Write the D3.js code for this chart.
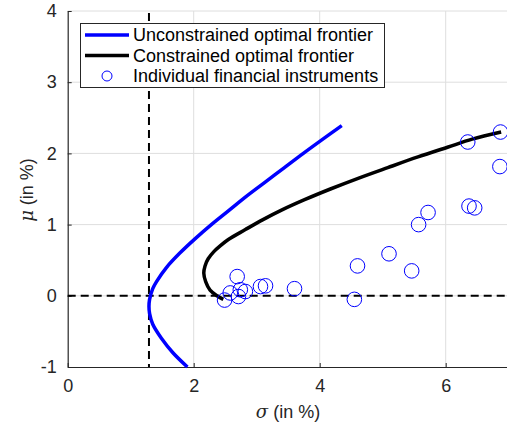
<!DOCTYPE html>
<html>
<head>
<meta charset="utf-8">
<script src="https://cdn.jsdelivr.net/npm/d3@7"></script>
<style>
  body { margin: 0; background: #fff; }
  svg { display: block; font-family: "Liberation Sans", Arial, sans-serif; }
</style>
</head>
<body>
<svg id="chart" width="507" height="433"></svg>
<script>
// data (sigma in %, mu in %)
var unconstrainedSigma = [1.90, 1.67, 1.49, 1.35, 1.30, 1.29, 1.30, 1.35, 1.41, 1.57, 1.78, 2.02, 2.28, 2.56, 2.84, 3.14, 3.44, 3.74, 4.05, 4.35];
var unconstrainedMu = [-1, -0.8, -0.6, -0.4, -0.25, -0.15, -0.05, 0.1, 0.2, 0.4, 0.6, 0.8, 1.0, 1.2, 1.4, 1.6, 1.8, 2.0, 2.2, 2.39];

var constrainedSigma = [2.47, 2.37, 2.26, 2.19, 2.16, 2.18, 2.23, 2.32, 2.42, 2.55, 2.82, 3.10, 3.41, 3.76, 4.17, 4.61, 5.08, 5.56, 6.04, 6.42, 6.88];
var constrainedMu = [-0.05, 0.0, 0.08, 0.2, 0.32, 0.42, 0.52, 0.62, 0.70, 0.79, 0.93, 1.07, 1.21, 1.35, 1.50, 1.65, 1.80, 1.95, 2.09, 2.20, 2.30];

var assetSigma = [2.49, 2.58, 2.69, 2.71, 2.74, 2.82, 3.06, 3.14, 3.60, 4.55, 4.60, 5.10, 5.46, 5.57, 5.72, 6.37, 6.46, 6.35, 6.87, 6.86];
var assetMu = [-0.06, 0.04, 0.27, -0.01, 0.085, 0.06, 0.13, 0.14, 0.10, -0.05, 0.42, 0.59, 0.35, 1.00, 1.17, 1.26, 1.235, 2.16, 2.30, 1.815];

var minSigma = 1.29;

var xTicks = [0, 2, 4, 6];
var yTicks = [-1, 0, 1, 2, 3, 4];
var legendLabels = ["Unconstrained optimal frontier", "Constrained optimal frontier", "Individual financial instruments"];

var svg = d3.select("#chart");
var x = d3.scaleLinear().domain([0, 7]).range([67.7, 508.7]);
var y = d3.scaleLinear().domain([-1, 4]).range([367, 11]);

// grid
var grid = svg.append("g").attr("stroke", "#dedede").attr("stroke-width", 1);
grid.selectAll(".gx").data(xTicks.filter(function (d) { return d > 0; })).enter()
    .append("line")
    .attr("x1", function (d) { return x(d); }).attr("x2", function (d) { return x(d); })
    .attr("y1", y(-1)).attr("y2", y(4));
grid.selectAll(".gy").data(yTicks.filter(function (d) { return d > -1; })).enter()
    .append("line")
    .attr("x1", x(0)).attr("x2", x(7))
    .attr("y1", function (d) { return y(d); }).attr("y2", function (d) { return y(d); });

// axes
var fmt = function (d) { return d < 0 ? "-" + Math.abs(d) : "" + d; };
var xAxis = svg.append("g").attr("transform", `translate(0,${y(-1)})`)
    .call(d3.axisBottom(x).tickValues(xTicks).tickFormat(fmt).tickSizeInner(-4).tickSizeOuter(0).tickPadding(12));
var yAxis = svg.append("g").attr("transform", `translate(${x(0)},0)`)
    .call(d3.axisLeft(y).tickValues(yTicks).tickFormat(fmt).tickSizeInner(-4).tickSizeOuter(0).tickPadding(11));
[xAxis, yAxis].forEach(function (a) {
    a.select(".domain").attr("stroke", "#262626").attr("stroke-width", 1.2);
    a.selectAll(".tick line").attr("stroke", "#262626");
    a.selectAll(".tick text").attr("fill", "#262626").style("font-size", "18px");
});

// reference lines
svg.append("line")
    .attr("x1", x(minSigma)).attr("x2", x(minSigma))
    .attr("y1", y(4) + 2).attr("y2", y(-1))
    .attr("stroke", "#000").attr("stroke-width", 2).attr("stroke-dasharray", "8,5");
svg.append("line")
    .attr("x1", x(0)).attr("x2", x(6.95))
    .attr("y1", y(0)).attr("y2", y(0))
    .attr("stroke", "#000").attr("stroke-width", 2).attr("stroke-dasharray", "8,5");

// frontiers
var line = d3.line()
    .x(function (d) { return x(d[0]); })
    .y(function (d) { return y(d[1]); })
    .curve(d3.curveCatmullRom);

svg.append("path")
    .datum(d3.zip(unconstrainedSigma, unconstrainedMu))
    .attr("d", line).attr("fill", "none")
    .attr("stroke", "#0000ff").attr("stroke-width", 3.5);

svg.append("path")
    .datum(d3.zip(constrainedSigma, constrainedMu))
    .attr("d", line).attr("fill", "none")
    .attr("stroke", "#000").attr("stroke-width", 3.5);

// instruments
svg.append("g").selectAll("circle")
    .data(d3.zip(assetSigma, assetMu)).enter()
    .append("circle")
    .attr("cx", function (d) { return x(d[0]); })
    .attr("cy", function (d) { return y(d[1]); })
    .attr("r", 7.3)
    .attr("fill", "none").attr("stroke", "#0000ff").attr("stroke-width", 1);

// axis labels
svg.append("text")
    .attr("x", 288).attr("y", 418)
    .attr("text-anchor", "middle").attr("fill", "#262626").style("font-size", "18px")
    .html('<tspan font-family="DejaVu Serif, serif" font-style="italic">σ</tspan> (in %)');
svg.append("text")
    .attr("transform", "translate(33,190) rotate(-90)")
    .attr("text-anchor", "middle").attr("fill", "#262626").style("font-size", "18px")
    .html('<tspan font-family="DejaVu Serif, serif" font-style="italic">μ</tspan> (in %)');

// legend
var legend = svg.append("g");
legend.append("rect")
    .attr("x", 80.5).attr("y", 23.5).attr("width", 304).attr("height", 64)
    .attr("fill", "#fff").attr("stroke", "#262626").attr("stroke-width", 1);
var rows = legend.selectAll(".row").data(legendLabels).enter()
    .append("g").attr("transform", function (d, i) { return `translate(0,${35 + i * 20.5})`; });
rows.filter(function (d, i) { return i < 2; }).append("line")
    .attr("x1", 85).attr("x2", 129).attr("y1", 0).attr("y2", 0)
    .attr("stroke", function (d, i) { return i == 0 ? "#0000ff" : "#000"; })
    .attr("stroke-width", 3.5);
rows.filter(function (d, i) { return i == 2; }).append("circle")
    .attr("cx", 107).attr("cy", 0).attr("r", 5)
    .attr("fill", "none").attr("stroke", "#0000ff").attr("stroke-width", 1);
rows.append("text")
    .attr("x", 133).attr("y", 0).attr("dy", "0.35em")
    .attr("fill", "#000").style("font-size", "18px")
    .text(function (d) { return d; });
</script>
</body>
</html>
